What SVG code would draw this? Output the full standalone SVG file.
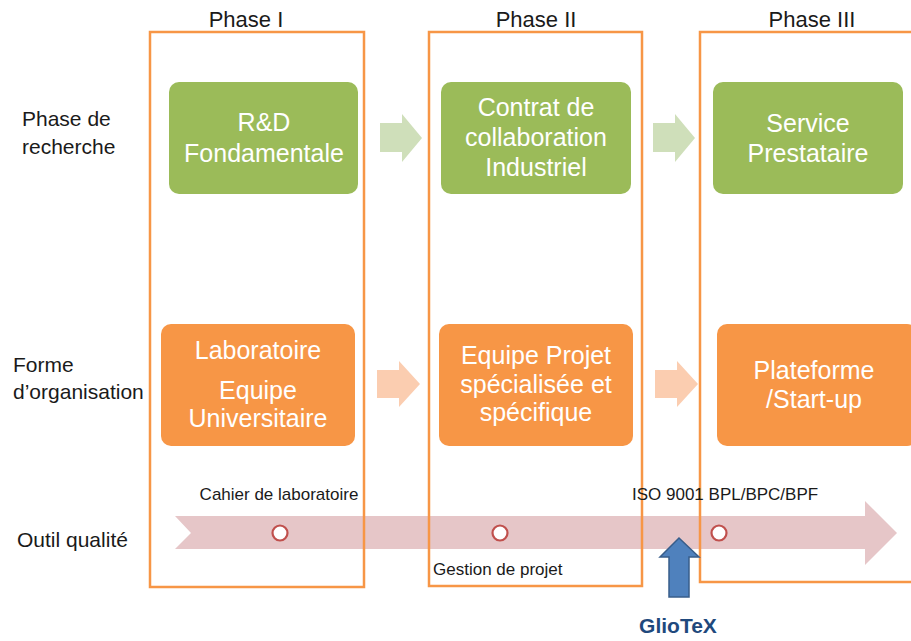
<svg xmlns="http://www.w3.org/2000/svg" width="911" height="641" viewBox="0 0 911 641">
  <style>
    text { font-family: "Liberation Sans", Arial, sans-serif; }
    .phase { font-size: 22px; fill: #1a1a1a; text-anchor: middle; }
    .row { font-size: 21px; fill: #1a1a1a; }
    .small { font-size: 17px; fill: #1a1a1a; }
    .box-text { font-size: 25px; fill: #ffffff; text-anchor: middle; }
    .green { fill: #9bbb59; }
    .orange { fill: #f79646; }
    .frame { fill: none; stroke: #f79646; stroke-width: 2.5; }
    .step-green { fill: #cfdfba; }
    .step-orange { fill: #fbcdb0; }
    .mark { fill: #ffffff; stroke: #c0504d; stroke-width: 2.2; }
  </style>

  <rect width="911" height="641" fill="#ffffff"/>

  <!-- quality timeline band -->
  <g id="timeline">
    <path d="M175,516 L865,516 L865,501 L897,533 L865,565 L865,549 L175,549 L191,533 Z" fill="#e6c6c8"/>
  </g>

  <!-- phase frames -->
  <g id="phase-1">
    <rect class="frame" x="150" y="32" width="214" height="555"/>
    <text class="phase" x="246" y="27">Phase I</text>
  </g>
  <g id="phase-2">
    <rect class="frame" x="429" y="32" width="213" height="554"/>
    <text class="phase" x="536" y="27">Phase II</text>
  </g>
  <g id="phase-3">
    <path class="frame" d="M915,32 L700,32 L700,582 L915,582"/>
    <text class="phase" x="812" y="27">Phase III</text>
  </g>

  <!-- row labels -->
  <g id="row-labels">
    <text class="row" x="22" y="126">Phase de</text>
    <text class="row" x="22" y="154">recherche</text>
    <text class="row" x="13" y="372">Forme</text>
    <text class="row" x="13" y="399">d’organisation</text>
    <text class="row" x="17" y="547">Outil qualité</text>
  </g>

  <!-- research row -->
  <g id="rd">
    <rect class="green" x="169" y="82" width="189" height="112" rx="10"/>
    <text class="box-text" x="264" y="131">R&amp;D</text>
    <text class="box-text" x="264" y="162">Fondamentale</text>
  </g>
  <g id="contrat">
    <rect class="green" x="441" y="82" width="190" height="112" rx="10"/>
    <text class="box-text" x="536" y="116">Contrat de</text>
    <text class="box-text" x="536" y="146">collaboration</text>
    <text class="box-text" x="536" y="176">Industriel</text>
  </g>
  <g id="service">
    <rect class="green" x="713" y="82" width="190" height="112" rx="10"/>
    <text class="box-text" x="808" y="132">Service</text>
    <text class="box-text" x="808" y="162">Prestataire</text>
  </g>

  <!-- organisation row -->
  <g id="laboratoire">
    <rect class="orange" x="161" y="324" width="194" height="122" rx="10"/>
    <text class="box-text" x="258" y="359">Laboratoire</text>
    <text class="box-text" x="258" y="399">Equipe</text>
    <text class="box-text" x="258" y="427">Universitaire</text>
  </g>
  <g id="equipe-projet">
    <rect class="orange" x="439" y="324" width="194" height="122" rx="10"/>
    <text class="box-text" x="536" y="364">Equipe Projet</text>
    <text class="box-text" x="536" y="393">spécialisée et</text>
    <text class="box-text" x="536" y="421">spécifique</text>
  </g>
  <g id="plateforme">
    <rect class="orange" x="717" y="324" width="200" height="122" rx="10"/>
    <text class="box-text" x="814" y="379">Plateforme</text>
    <text class="box-text" x="814" y="408">/Start-up</text>
  </g>

  <!-- connectors between stages -->
  <g id="connectors">
    <path class="step-green" d="M380,123 L402,123 L402,114 L422,138 L402,162 L402,152 L380,152 Z"/>
    <path class="step-green" d="M653,123 L675,123 L675,114 L695,138 L675,162 L675,152 L653,152 Z"/>
    <path class="step-orange" d="M377,370 L399,370 L399,361 L420,384 L399,407 L399,398 L377,398 Z"/>
    <path class="step-orange" d="M655,370 L677,370 L677,361 L698,384 L677,407 L677,398 L655,398 Z"/>
  </g>

  <!-- quality tools -->
  <g id="quality-marks">
    <circle class="mark" cx="280" cy="533" r="7.5"/>
    <circle class="mark" cx="500" cy="533" r="7.5"/>
    <circle class="mark" cx="719" cy="533" r="7.5"/>
    <text class="small" x="279" y="500" text-anchor="middle">Cahier de laboratoire</text>
    <text class="small" x="433" y="575">Gestion de projet</text>
    <text class="small" x="632" y="500">ISO 9001 BPL/BPC/BPF</text>
  </g>

  <!-- GlioTeX entry point -->
  <g id="gliotex">
    <path d="M669,597 L669,557 L660,557 L679,538 L699,557 L689,557 L689,597 Z" fill="#4f81bd" stroke="#385d8a" stroke-width="1.5"/>
    <text x="678" y="633" text-anchor="middle" font-size="21" font-weight="bold" fill="#1f497d">GlioTeX</text>
  </g>
</svg>
